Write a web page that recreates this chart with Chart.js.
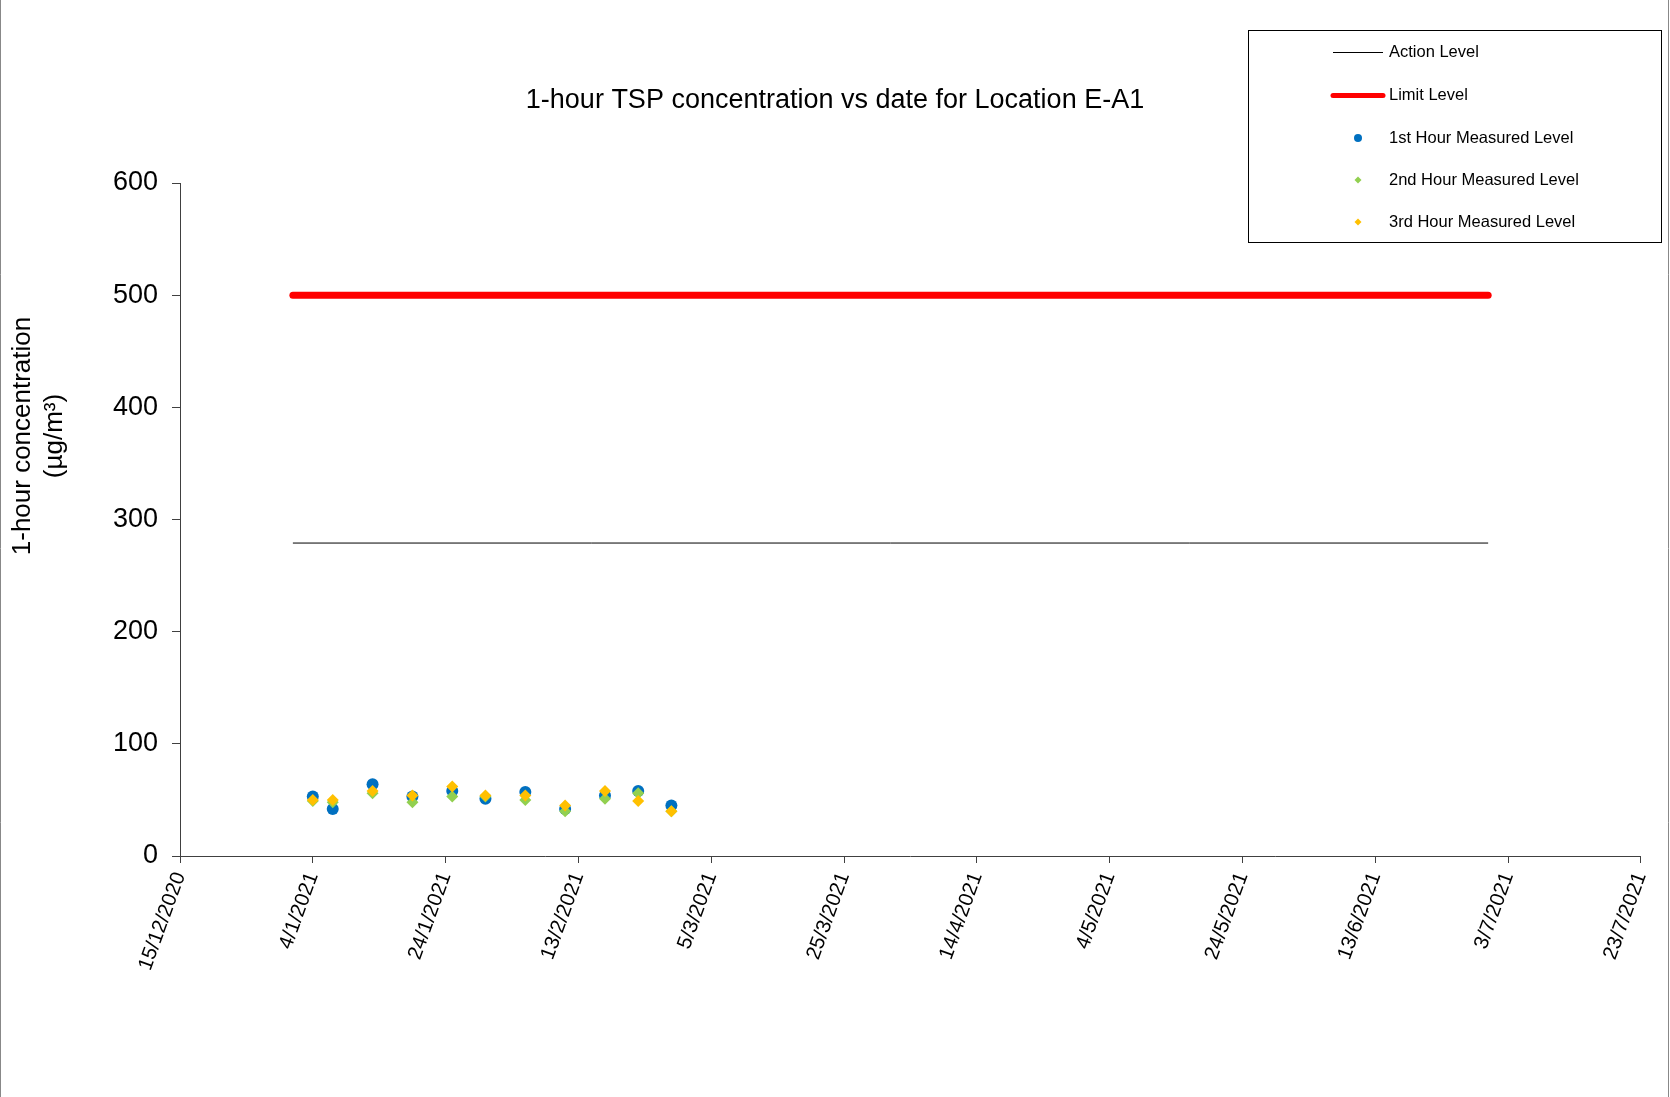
<!DOCTYPE html>
<html lang="en">
<head>
    <meta charset="UTF-8">
    <title>1-hour TSP concentration vs date for Location E-A1</title>
    <style>
        body {
            margin: 0;
            background-color: #fff;
        }
        #chartContainer {
            width: 1670px;
            height: 1097px;
        }
    </style>
</head>
<body>
    <div id="chartContainer">
        <canvas id="tspChart" width="1670" height="1097"></canvas>
    </div>

    <script src="https://cdn.jsdelivr.net/npm/chart.js"></script>
    <script>
        // Monitoring dates (d/m/yyyy)
        const sampleDates = ['4/1/2021', '7/1/2021', '13/1/2021', '19/1/2021', '25/1/2021', '30/1/2021',
                             '5/2/2021', '11/2/2021', '17/2/2021', '22/2/2021', '27/2/2021'];

        // 1-hour TSP results (ug/m3)
        const hour1Levels = [53, 42, 64, 53, 58, 51, 57, 42, 54, 58, 45];
        const hour2Levels = [49, 48, 56, 48, 53, 53, 50, 40, 51, 56, 40];
        const hour3Levels = [50, 50, 58, 54, 62, 54, 54, 45, 58, 49, 40];

        // Action / Limit levels and the period they cover
        const actionLevel = 279;
        const limitLevel = 500;
        const levelDates = ['1/1/2021', '30/6/2021'];

        // x axis tick labels
        const xTickLabels = ['15/12/2020', '4/1/2021', '24/1/2021', '13/2/2021', '5/3/2021', '25/3/2021',
                             '14/4/2021', '4/5/2021', '24/5/2021', '13/6/2021', '3/7/2021', '23/7/2021'];

        const FONT = "'Liberation Sans', Arial, sans-serif";

        function toTime(str) {
            const [d, m, y] = str.split('/').map(Number);
            return Date.UTC(y, m - 1, d);
        }

        function formatDate(value) {
            const dt = new Date(value);
            return dt.getUTCDate() + '/' + (dt.getUTCMonth() + 1) + '/' + dt.getUTCFullYear();
        }

        function toPoints(values) {
            return values.map((v, i) => ({ x: toTime(sampleDates[i]), y: v }));
        }

        function levelLine(level) {
            return levelDates.map(d => ({ x: toTime(d), y: level }));
        }

        // title, y axis title, legend box and the outer frame
        const decorations = {
            id: 'decorations',
            afterDraw(chart) {
                const c = chart.ctx;
                c.save();

                // outer frame (left / right edges)
                c.strokeStyle = '#888';
                c.lineWidth = 1;
                c.beginPath();
                c.moveTo(0.5, 0);
                c.lineTo(0.5, chart.height);
                c.moveTo(chart.width - 1.5, 0);
                c.lineTo(chart.width - 1.5, chart.height);
                c.stroke();

                // chart title
                c.fillStyle = '#000';
                c.font = '27px ' + FONT;
                c.textAlign = 'center';
                c.textBaseline = 'middle';
                c.fillText('1-hour TSP concentration vs date for Location E-A1', 835, 101);

                // y axis title
                c.save();
                c.translate(0, 436);
                c.rotate(-Math.PI / 2);
                c.font = '26px ' + FONT;
                c.fillText('1-hour concentration', 0, 23);
                c.fillText('(\u00b5g/m\u00b3)', 0, 55);
                c.restore();

                // legend
                c.strokeStyle = '#000';
                c.lineWidth = 1;
                c.strokeRect(1248.5, 30.5, 413, 212);

                const rowY = [52, 95, 138, 180, 222];
                c.font = '16.5px ' + FONT;
                c.textAlign = 'left';
                chart.data.datasets.forEach((ds, i) => {
                    const y = rowY[i];
                    if (ds.showLine) {
                        c.strokeStyle = ds.borderColor;
                        c.lineWidth = ds.borderWidth > 1 ? 5 : 1;
                        c.lineCap = ds.borderWidth > 1 ? 'round' : 'butt';
                        c.beginPath();
                        c.moveTo(1333, y + 0.5);
                        c.lineTo(1383, y + 0.5);
                        c.stroke();
                    } else {
                        c.fillStyle = ds.backgroundColor;
                        c.beginPath();
                        if (ds.pointStyle === 'circle') {
                            c.arc(1358, y, 4, 0, Math.PI * 2);
                        } else {
                            c.moveTo(1358 - 3.5, y);
                            c.lineTo(1358, y - 3.5);
                            c.lineTo(1358 + 3.5, y);
                            c.lineTo(1358, y + 3.5);
                            c.closePath();
                        }
                        c.fill();
                    }
                    c.fillStyle = '#000';
                    c.fillText(ds.label, 1389, y);
                });

                c.restore();
            }
        };

        const ctx = document.getElementById('tspChart').getContext('2d');
        const chart = new Chart(ctx, {
            type: 'scatter',
            data: {
                datasets: [
                    {
                        label: 'Action Level',
                        data: levelLine(actionLevel),
                        showLine: true,
                        borderColor: '#000000',
                        borderWidth: 1,
                        pointRadius: 0,
                        order: 4
                    },
                    {
                        label: 'Limit Level',
                        data: levelLine(limitLevel),
                        showLine: true,
                        borderColor: '#ff0000',
                        borderWidth: 7,
                        borderCapStyle: 'round',
                        pointRadius: 0,
                        order: 5
                    },
                    {
                        label: '1st Hour Measured Level',
                        data: toPoints(hour1Levels),
                        pointStyle: 'circle',
                        pointRadius: 6,
                        backgroundColor: '#0070c0',
                        borderColor: '#0070c0',
                        borderWidth: 0,
                        order: 3
                    },
                    {
                        label: '2nd Hour Measured Level',
                        data: toPoints(hour2Levels),
                        pointStyle: 'rectRot',
                        pointRadius: 6,
                        backgroundColor: '#92d050',
                        borderColor: '#92d050',
                        borderWidth: 0,
                        order: 2
                    },
                    {
                        label: '3rd Hour Measured Level',
                        data: toPoints(hour3Levels),
                        pointStyle: 'rectRot',
                        pointRadius: 6,
                        backgroundColor: '#ffc000',
                        borderColor: '#ffc000',
                        borderWidth: 0,
                        order: 1
                    }
                ]
            },
            options: {
                responsive: false,
                animation: false,
                layout: {
                    padding: { top: 183, right: 28, bottom: 0, left: 0 }
                },
                plugins: {
                    legend: { display: false },
                    title: { display: false },
                    tooltip: { enabled: false }
                },
                scales: {
                    x: {
                        type: 'linear',
                        min: toTime(xTickLabels[0]),
                        max: toTime(xTickLabels[xTickLabels.length - 1]),
                        afterBuildTicks: scale => {
                            scale.ticks = xTickLabels.map(t => ({ value: toTime(t) }));
                        },
                        afterFit: scale => {
                            scale.height = 241;
                        },
                        ticks: {
                            autoSkip: false,
                            minRotation: 70,
                            maxRotation: 70,
                            padding: 6,
                            color: '#000',
                            font: { family: FONT, size: 20.5 },
                            callback: value => formatDate(value)
                        },
                        grid: {
                            drawOnChartArea: false,
                            tickLength: 7,
                            color: '#404040'
                        },
                        border: { color: '#404040', width: 1 }
                    },
                    y: {
                        min: 0,
                        max: 600,
                        afterFit: scale => {
                            scale.width = 180;
                        },
                        ticks: {
                            stepSize: 100,
                            padding: 14,
                            color: '#000',
                            font: { family: FONT, size: 27 }
                        },
                        grid: {
                            drawOnChartArea: false,
                            tickLength: 8,
                            color: '#404040'
                        },
                        border: { color: '#404040', width: 1 }
                    }
                }
            },
            plugins: [decorations]
        });
    </script>
</body>
</html>
